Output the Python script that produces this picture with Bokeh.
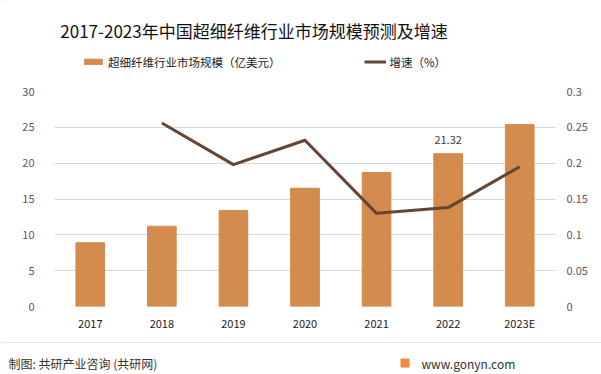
from bokeh.plotting import figure
from bokeh.models import (FactorRange, Range1d, LinearAxis, FixedTicker, Label,
                          Legend, LegendItem, BoxAnnotation, Span, ColumnDataSource)
from bokeh.layouts import column
from bokeh.embed import file_html
from bokeh.resources import INLINE

# ---- data ----
years = ["2017", "2018", "2019", "2020", "2021", "2022", "2023E"]
market_size = [8.9, 11.2, 13.4, 16.5, 18.7, 21.32, 25.4]      # 亿美元
growth_years = ["2018", "2019", "2020", "2021", "2022", "2023E"]
growth_rate = [0.256, 0.198, 0.232, 0.130, 0.138, 0.195]       # 增速
left_ticks = [0, 5, 10, 15, 20, 25, 30]
right_ticks = [0, 0.05, 0.1, 0.15, 0.2, 0.25, 0.3]
right_tick_labels = ["0", "0.05", "0.1", "0.15", "0.2", "0.25", "0.3"]
labeled_year = "2022"
labeled_value = 21.32

title_text = "2017-2023年中国超细纤维行业市场规模预测及增速"
bar_name = "超细纤维行业市场规模（亿美元）"
line_name = "增速（%）"
source_text = "制图: 共研产业咨询 (共研网)"
site_text = "www.gonyn.com"

FONT = "Noto Sans CJK SC"
BAR_COLOR = "#D38B4E"
LINE_COLOR = "#654632"
W = 601


def blank(fig):
    fig.outline_line_color = None
    fig.background_fill_color = "white"
    fig.border_fill_color = "white"
    fig.grid.visible = False
    return fig


# ---------- header: title + legend ----------
hdr = blank(figure(width=W, height=80, x_range=Range1d(0, W), y_range=Range1d(80, 0),
                   output_backend="svg", toolbar_location=None, frame_align=False,
                   x_axis_location=None, y_axis_location=None, min_border=0))
hdr.add_layout(Label(x=253.5, y=29.5, text=title_text, text_align="center",
                     text_baseline="middle", text_font=FONT, text_font_size="17px",
                     text_color="#111111"))
dummy_bar = hdr.vbar(x=[-1000], top=[-1000], bottom=[-1001], width=1, color=BAR_COLOR)
dummy_line = hdr.line(x=[-1000, -999], y=[-1000, -1000], line_color=LINE_COLOR, line_width=3)
legend = Legend(items=[LegendItem(label=bar_name, renderers=[dummy_bar]),
                       LegendItem(label=line_name, renderers=[dummy_line])],
                location=(82, 10.5), orientation="horizontal", glyph_width=22,
                glyph_height=7, label_height=13, label_standoff=4, spacing=83,
                padding=0, margin=0, border_line_color=None,
                background_fill_alpha=0, label_text_font=FONT,
                label_text_font_size="11.5px", label_text_color="#1a1a1a")
hdr.add_layout(legend)

# ---------- main chart ----------
p = figure(width=W, height=260, x_range=FactorRange(*years, range_padding=0),
           y_range=Range1d(0, 30), output_backend="svg", toolbar_location=None,
           frame_align=False, min_border_left=54, min_border_right=46,
           min_border_top=11, min_border_bottom=34)
p.outline_line_color = None
p.background_fill_color = "white"
p.border_fill_color = "white"
p.extra_y_ranges = {"r": Range1d(0, 0.3)}

src = ColumnDataSource(dict(x=years, y=market_size))
p.vbar(x="x", top="y", width=0.4, source=src, color=BAR_COLOR)
lsrc = ColumnDataSource(dict(x=growth_years, y=growth_rate))
p.line(x="x", y="y", source=lsrc, y_range_name="r", line_color=LINE_COLOR,
       line_width=3, line_join="round")

p.yaxis.ticker = FixedTicker(ticks=left_ticks)
rax = LinearAxis(y_range_name="r", ticker=FixedTicker(ticks=right_ticks),
                 major_label_overrides={t: s for t, s in zip(right_ticks, right_tick_labels)})
p.add_layout(rax, "right")
for ax in [p.xaxis[0], p.yaxis[0], rax]:
    ax.axis_line_color = None
    ax.major_tick_line_color = None
    ax.minor_tick_line_color = None
    ax.major_tick_out = 0
    ax.major_tick_in = 0
    ax.minor_tick_out = 0
    ax.major_label_text_font = FONT
    ax.major_label_text_font_size = "11px"
p.yaxis[0].major_label_text_color = "#595959"
p.yaxis[0].major_label_standoff = 20
rax.major_label_text_color = "#595959"
rax.major_label_standoff = 11
p.xaxis.major_label_text_color = "#1a1a1a"
p.xaxis.major_label_standoff = 8
p.xgrid.grid_line_color = None
p.ygrid.grid_line_color = "#d9d9d9"
p.ygrid.ticker = FixedTicker(ticks=left_ticks)

p.add_layout(Label(x=years.index(labeled_year) + 0.5, y=labeled_value,
                   text=f"{labeled_value:.2f}", y_offset=14, text_align="center",
                   text_baseline="middle", text_font=FONT, text_font_size="11px",
                   text_color="#404040"))

# ---------- footer ----------
ftr = blank(figure(width=W, height=34, x_range=Range1d(0, W), y_range=Range1d(374, 340),
                   output_backend="svg", toolbar_location=None, frame_align=False,
                   x_axis_location=None, y_axis_location=None, min_border=0))
ftr.add_layout(Span(location=342, dimension="width", line_color="#e3e3e3", line_width=1))
ftr.add_layout(Label(x=8, y=362.5, text=source_text, text_align="left",
                     text_baseline="middle", text_font=FONT, text_font_size="12px",
                     text_color="#333333"))
ftr.add_layout(BoxAnnotation(left=400, right=409, top=358, bottom=367,
                             fill_color="#F08A3C", fill_alpha=1, line_color=None))
ftr.add_layout(Label(x=421, y=362.5, text=site_text, text_align="left",
                     text_baseline="middle", text_font=FONT, text_font_size="12px",
                     text_color="#333333"))

layout = column(hdr, p, ftr, spacing=0)
open("out.html", "w").write(file_html(layout, INLINE))
